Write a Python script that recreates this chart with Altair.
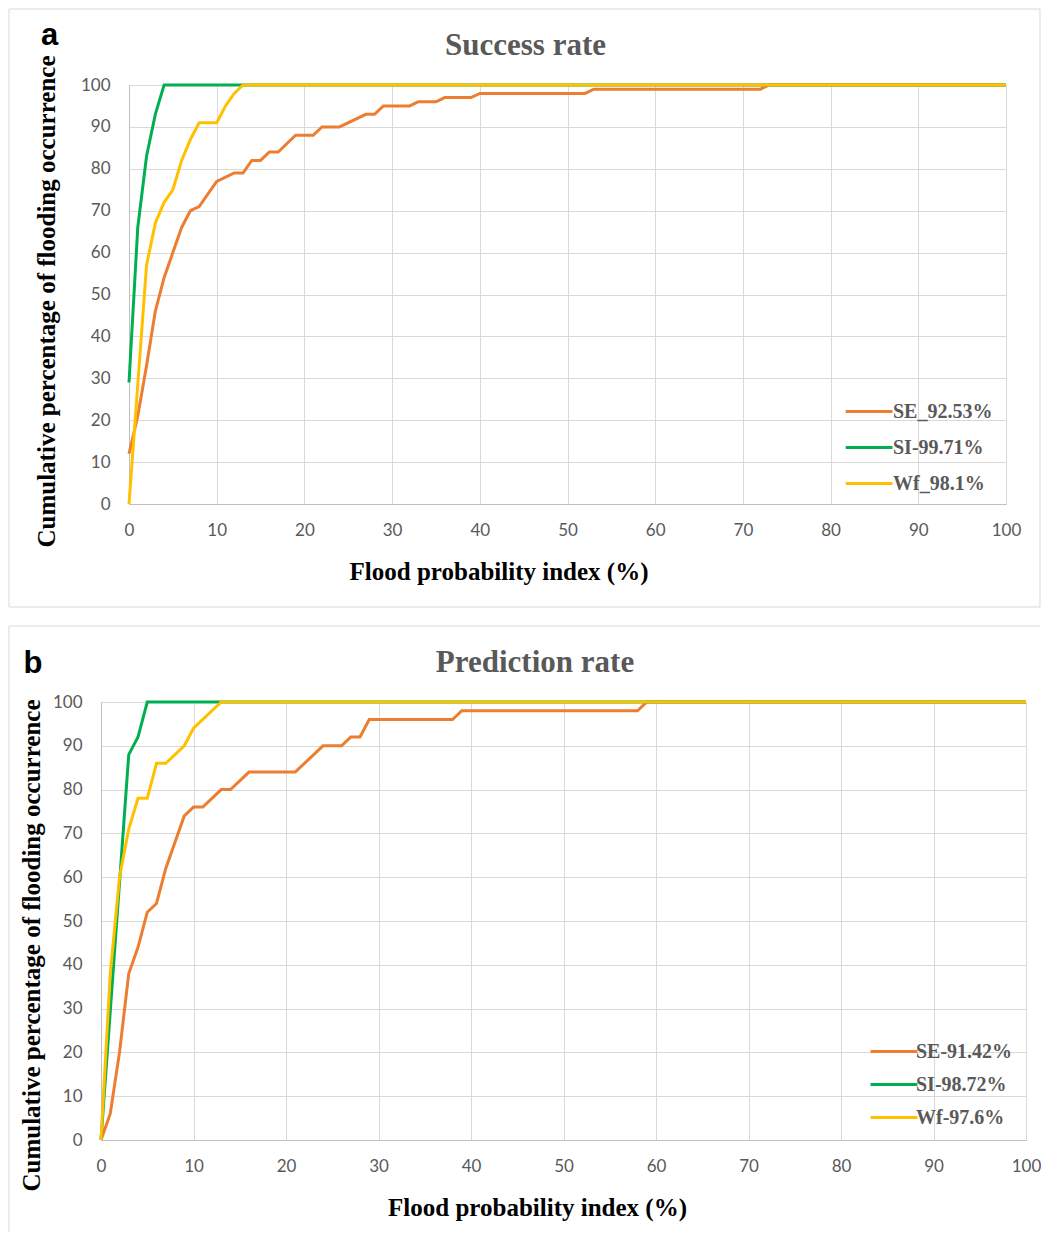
import altair as alt
import pandas as pd

# ---------------- data ----------------
x_ticks = [0, 10, 20, 30, 40, 50, 60, 70, 80, 90, 100]
y_ticks = [0, 10, 20, 30, 40, 50, 60, 70, 80, 90, 100]
colors = ["#ED7D31", "#00B050", "#FFC000"]

# Panel a: Success rate
a_names = ["SE_92.53%", "SI-99.71%", "Wf_98.1%"]
a_se_x = [0, 1, 2, 3, 4, 5, 6, 7, 8, 10, 12, 13, 14, 15, 16, 17, 19, 21, 22, 24,
          27, 28, 29, 32, 33, 35, 36, 39, 40, 52, 53, 72, 73, 100]
a_se_y = [12, 21, 33, 46, 54, 60, 66, 70, 71, 77, 79, 79, 82, 82, 84, 84, 88, 88, 90, 90,
          93, 93, 95, 95, 96, 96, 97, 97, 98, 98, 99, 99, 100, 100]
a_si_x = [0, 1, 2, 3, 4, 100]
a_si_y = [29, 66, 83, 93, 100, 100]
a_wf_x = [0, 2, 3, 4, 5, 6, 7, 8, 10, 11, 12, 13, 100]
a_wf_y = [0, 57, 67, 72, 75, 82, 87, 91, 91, 95, 98, 100, 100]

# Panel b: Prediction rate
b_names = ["SE-91.42%", "SI-98.72%", "Wf-97.6%"]
b_se_x = [0, 1, 2, 3, 4, 5, 6, 7, 9, 10, 11, 13, 14, 16, 21, 24, 26, 27, 28, 29,
          38, 39, 58, 59, 100]
b_se_y = [0, 6, 20, 38, 44, 52, 54, 62, 74, 76, 76, 80, 80, 84, 84, 90, 90, 92, 92, 96,
          96, 98, 98, 100, 100]
b_si_x = [0, 3, 4, 5, 100]
b_si_y = [0, 88, 92, 100, 100]
b_wf_x = [0, 1, 2, 3, 4, 5, 6, 7, 9, 10, 13, 100]
b_wf_y = [0, 38, 60, 71, 78, 78, 86, 86, 90, 94, 100, 100]


def make_df(names, xs_list, ys_list):
    rows = []
    for name, xs, ys in zip(names, xs_list, ys_list):
        for i, (x, y) in enumerate(zip(xs, ys)):
            rows.append({"series": name, "x": x, "y": y, "i": i})
    return pd.DataFrame(rows)


a_df = make_df(a_names, [a_se_x, a_si_x, a_wf_x], [a_se_y, a_si_y, a_wf_y])
b_df = make_df(b_names, [b_se_x, b_si_x, b_wf_x], [b_se_y, b_si_y, b_wf_y])

one = pd.DataFrame({"k": [0]})

SERIF = "Liberation Serif"
SANS = "Lato"
GRAY = "#595959"


def panel(df, names, W, H, x_range, y_off, title, title_xy, letter, letter_xy,
          xt_xy, yt_xy, leg_xy, leg_size, leg_path, leg_offset, leg_rowpad, frame):
    x_axis = alt.Axis(values=x_ticks, title="Flood probability index (%)", grid=True,
                      gridColor="#d9d9d9", domainColor="#bfbfbf", ticks=False,
                      labelFlush=False, labelOverlap=False,
                      labelFont=SANS, labelFontSize=17, labelColor=GRAY, labelPadding=18.5,
                      titleFont=SERIF, titleFontWeight="bold", titleFontSize=25,
                      titleColor="black", titleX=xt_xy[0], titleY=xt_xy[1],
                      titleBaseline="middle")
    y_axis = alt.Axis(values=y_ticks, title="Cumulative percentage of flooding occurrence",
                      grid=True, gridColor="#d9d9d9", domainColor="#bfbfbf", ticks=False,
                      offset=y_off, labelFlush=False, labelOverlap=False,
                      labelFont=SANS, labelFontSize=17, labelColor=GRAY, labelPadding=19,
                      titleFont=SERIF, titleFontWeight="bold", titleFontSize=25,
                      titleColor="black", titleX=yt_xy[0], titleY=yt_xy[1],
                      titleBaseline="middle", titleAngle=270)
    legend = alt.Legend(title=None, orient="none", legendX=leg_xy[0], legendY=leg_xy[1],
                        symbolType=leg_path, symbolSize=leg_size, symbolStrokeWidth=3,
                        labelFont=SERIF, labelFontWeight="bold", labelFontSize=20,
                        labelColor=GRAY, labelOffset=leg_offset, rowPadding=leg_rowpad,
                        padding=0)
    lines = alt.Chart(df).mark_line(strokeWidth=3).encode(
        x=alt.X("x:Q", scale=alt.Scale(domain=[0, 100], nice=False, range=x_range),
                axis=x_axis),
        y=alt.Y("y:Q", scale=alt.Scale(domain=[0, 100], nice=False), axis=y_axis),
        color=alt.Color("series:N", scale=alt.Scale(domain=names, range=colors), legend=legend),
        order="i:Q",
    )
    t = alt.Chart(one).mark_text(text=title, font=SERIF, fontWeight="bold", fontSize=31,
                                 color=GRAY, align="center", baseline="middle").encode(
        x=alt.value(title_xy[0]), y=alt.value(title_xy[1]))
    l = alt.Chart(one).mark_text(text=letter, font="Liberation Sans", fontWeight="bold",
                                 fontSize=31, color="black", align="center",
                                 baseline="alphabetic").encode(
        x=alt.value(letter_xy[0]), y=alt.value(letter_xy[1]))
    layers = frame + [lines, t, l]
    return alt.layer(*layers).properties(width=W, height=H)


# panel a frame (full box)
a_frame = [alt.Chart(one).mark_rect(fill="white", fillOpacity=0, stroke="#d9d9d9",
                                    strokeWidth=1).encode(
    x=alt.value(-92), x2=alt.value(939), y=alt.value(-76), y2=alt.value(522))]
# panel b frame (top and left edges; the rest runs off the page)
b_frame = [
    alt.Chart(one).mark_rule(color="#d9d9d9", strokeWidth=1).encode(
        x=alt.value(-92), x2=alt.value(939), y=alt.value(-76)),
    alt.Chart(one).mark_rule(color="#d9d9d9", strokeWidth=1).encode(
        x=alt.value(-92), y=alt.value(-76), y2=alt.value(530)),
]

pa = panel(a_df, a_names, 905, 419, [28, 905], -28, "Success rate", (424.5, -39),
           "a", (-51.5, -40), (397.5, 67), (-83, 216), (749.5, 307), 1296,
           "M-1.35,0H1.25", 3.5, 6, a_frame)
pb = panel(b_df, b_names, 925, 438, [0, 925], 0, "Prediction rate", (434, -39),
           "b", (-68, -29), (436, 67), (-70, 243), (775, 331.5), 1089,
           "M-1.42,0H1.42", 4, 5, b_frame)

chart = alt.vconcat(pa, pb, spacing=17).resolve_scale(color="independent").resolve_legend(
    color="independent").properties(
    padding={"left": 0, "top": 0, "right": 0, "bottom": 0}
).configure_view(strokeWidth=0)

chart.save("out.html", embed_options={"renderer": "svg", "actions": False})
